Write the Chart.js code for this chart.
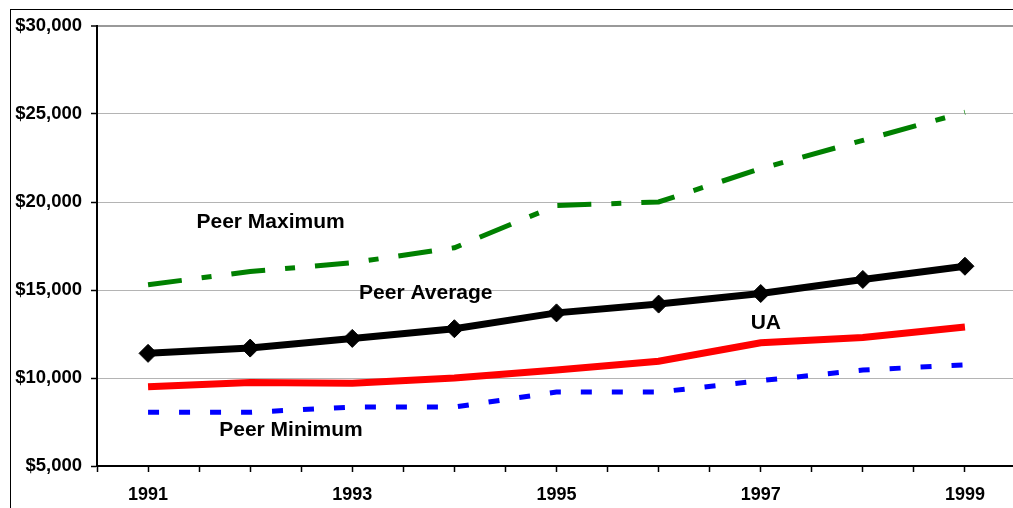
<!DOCTYPE html>
<html>
<head>
<meta charset="utf-8">
<script src="https://cdn.jsdelivr.net/npm/chart.js@4.4.1/dist/chart.umd.min.js"></script>
<style>
  html, body { margin: 0; padding: 0; background: #fff; overflow: hidden; width: 1013px; height: 508px; }
  #wrap { position: absolute; left: 0; top: 0; width: 1040px; height: 508px; }
  #frame { position: absolute; left: 10px; top: 9px; width: 1100px; height: 600px;
           border-left: 1px solid #000; border-top: 1px solid #000; pointer-events: none; }
</style>
</head>
<body>
<div id="frame"></div>
<div id="wrap"><canvas id="c" width="1040" height="508"></canvas></div>
<script>
// Years on the horizontal axis
const years = [1991, 1992, 1993, 1994, 1995, 1996, 1997, 1998, 1999];

// Spending per student, dollars
const peerMaximum = [15300, 16050, 16550, 17400, 19800, 20000, 21900, 23500, 25100];
const peerAverage = [11400, 11700, 12250, 12800, 13700, 14200, 14800, 15600, 16350];
const uaValues    = [9500, 9750, 9700, 10000, 10450, 10950, 12000, 12300, 12900];
const peerMinimum = [8050, 8050, 8350, 8350, 9200, 9200, 9850, 10450, 10750];

// Axis range and labelled years
const yTicks = [5000, 10000, 15000, 20000, 25000, 30000];
const yearLabels = [1991, 1993, 1995, 1997, 1999];

// In-chart series names, anchored in data coordinates
const seriesNotes = [
  { text: 'Peer Maximum', x: 1992.2, y: 18850 },
  { text: 'Peer Average', x: 1993.72, y: 14820 },
  { text: 'UA',           x: 1997.05, y: 13115 },
  { text: 'Peer Minimum', x: 1992.4, y: 7030 }
];

const FONT = '"Liberation Sans", Arial, sans-serif';
const pts = arr => arr.map((v, i) => ({ x: years[i], y: v }));

const notesPlugin = {
  id: 'seriesNotes',
  afterDatasetsDraw(chart) {
    const { ctx, scales } = chart;
    ctx.save();
    ctx.font = 'bold 21px ' + FONT;
    ctx.fillStyle = '#000';
    ctx.textAlign = 'center';
    ctx.textBaseline = 'middle';
    seriesNotes.forEach(n => {
      ctx.fillText(n.text, scales.x.getPixelForValue(n.x), scales.y.getPixelForValue(n.y));
    });
    ctx.restore();
  }
};

new Chart(document.getElementById('c'), {
  type: 'line',
  data: {
    datasets: [
      { label: 'Peer Maximum', data: pts(peerMaximum), borderColor: '#008000', borderWidth: 5,
        borderDash: [34, 20, 10, 20], borderCapStyle: 'butt', pointRadius: 0, tension: 0 },
      { label: 'Peer Average', data: pts(peerAverage), borderColor: '#000', borderWidth: 7,
        pointStyle: 'rectRot', pointRadius: 9, pointBackgroundColor: '#000', pointBorderColor: '#000',
        pointBorderWidth: 1, tension: 0 },
      { label: 'UA', data: pts(uaValues), borderColor: '#ff0000', borderWidth: 7,
        pointRadius: 0, tension: 0 },
      { label: 'Peer Minimum', data: pts(peerMinimum), borderColor: '#0000ff', borderWidth: 5,
        borderDash: [11, 20], borderCapStyle: 'butt', pointRadius: 0, tension: 0 }
    ]
  },
  options: {
    responsive: false,
    animation: false,
    events: [],
    layout: { padding: { left: 0, right: 24, top: 26, bottom: 0 } },
    plugins: { legend: { display: false }, tooltip: { enabled: false } },
    scales: {
      x: {
        type: 'linear',
        min: 1990.5,
        max: 1999.5,
        afterBuildTicks(scale) {
          const t = [];
          for (let v = 1990.5; v <= 1999.5 + 1e-9; v += 0.5) t.push({ value: v });
          scale.ticks = t;
        },
        afterFit(scale) { scale.height = 42; },
        ticks: {
          autoSkip: false,
          maxRotation: 0,
          padding: 12,
          color: '#000',
          font: { family: FONT, size: 18, weight: 'bold' },
          callback: v => (yearLabels.includes(v) ? String(v) : '')
        },
        grid: { drawOnChartArea: false, drawTicks: true, tickLength: 6, tickColor: '#000', tickWidth: 1.5 },
        border: { display: true, color: '#000', width: 2 }
      },
      y: {
        min: 5000,
        max: 30000,
        afterBuildTicks(scale) { scale.ticks = yTicks.map(v => ({ value: v })); },
        afterFit(scale) { scale.width = 97; },
        ticks: {
          padding: 9,
          color: '#000',
          font: { family: FONT, size: 18.5, weight: 'bold' },
          callback: v => '$' + Number(v).toLocaleString('en-US')
        },
        grid: {
          color: ctx => (ctx.tick && ctx.tick.value === 30000 ? '#999' : '#b4b4b4'),
          lineWidth: ctx => (ctx.tick && ctx.tick.value === 30000 ? 2 : 1),
          tickLength: 6,
          tickColor: '#000',
          tickWidth: 1.5
        },
        border: { display: true, color: '#000', width: 2 }
      }
    }
  },
  plugins: [notesPlugin]
});
</script>
</body>
</html>
